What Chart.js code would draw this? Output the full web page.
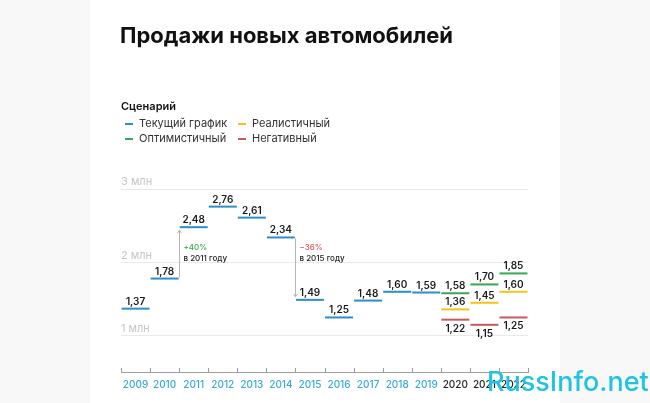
<!DOCTYPE html>
<html>
<head>
<meta charset="utf-8">
<script src="https://cdn.jsdelivr.net/npm/chart.js@4"></script>
<style>
  html, body { margin: 0; padding: 0; width: 650px; height: 403px; overflow: hidden; background: #f8f8f8; font-family: Inter, "Noto Sans", sans-serif; }
  #card { position: absolute; left: 90px; top: 0; width: 470px; height: 403px; background: #fff; }
  #chart { position: absolute; left: 0; top: 0; }
  h1 { position: absolute; left: 120px; top: 22px; margin: 0; font-size: 22px; font-weight: 700; color: #111; }
  .lg { position: absolute; font-size: 11px; color: #333; white-space: nowrap; }
  .lg i { position: absolute; left: -14px; top: 7px; width: 8px; height: 2px; }
  #lgTitle { left: 121px; top: 99px; font-weight: 600; color: #111; }
  #wm { position: absolute; left: 487px; top: 365px; font-size: 27px; font-weight: 500; color: #1fc4e2; z-index: 2; }
</style>
</head>
<body>
<div id="card"></div>
<canvas id="chart" width="650" height="403"></canvas>
<h1>Продажи новых автомобилей</h1>
<div class="lg" id="lgTitle">Сценарий</div>
<div id="legend"></div>
<div id="wm">RussInfo.net</div>
<script>
const years = ["2009", "2010", "2011", "2012", "2013", "2014", "2015", "2016", "2017", "2018", "2019", "2020", "2021", "2022"];
const current = [1.37, 1.78, 2.48, 2.76, 2.61, 2.34, 1.49, 1.25, 1.48, 1.60, 1.59, null, null, null];
const optimistic = [null, null, null, null, null, null, null, null, null, null, null, 1.58, 1.70, 1.85];
const realistic = [null, null, null, null, null, null, null, null, null, null, null, 1.36, 1.45, 1.60];
const negative = [null, null, null, null, null, null, null, null, null, null, null, 1.22, 1.15, 1.25];
const yTicks = [1, 2, 3];

const seriesNames = ["Текущий график", "Оптимистичный", "Реалистичный", "Негативный"];
const seriesColors = ["#2a8ec8", "#3aa655", "#f2c41c", "#c85a5c"];

// change annotations
const noteYears = ["2011", "2015"];
const noteFrom = [1.78, 2.34];
const noteTo = [2.48, 1.49];
const noteTexts = ["+40%", "\u221236%"];
const noteSubs = ["в 2011 году", "в 2015 году"];
const noteColors = ["#3aa655", "#d9534f"];

// legend (html)
const lgPos = [[139, 116], [139, 131], [252, 116], [252, 131]];
const legendEl = document.getElementById("legend");
seriesNames.forEach((n, i) => {
  const d = document.createElement("div");
  d.className = "lg";
  d.style.left = lgPos[i][0] + "px";
  d.style.top = lgPos[i][1] + "px";
  d.innerHTML = `<i style="background:${seriesColors[i]}"></i>${n}`;
  legendEl.appendChild(d);
});

const fmt = (v) => v.toFixed(2).replace(".", ",");

const valueLabels = {
  id: "valueLabels",
  afterDatasetsDraw(chart) {
    const ctx = chart.ctx;
    ctx.save();
    ctx.font = "600 10px Inter";
    ctx.fillStyle = "#1a1a1a";
    ctx.textAlign = "center";
    ctx.textBaseline = "middle";
    chart.data.datasets.forEach((ds, di) => {
      chart.getDatasetMeta(di).data.forEach((pt, i) => {
        const v = ds.data[i];
        if (v == null) return;
        ctx.fillText(fmt(v), pt.x, pt.y + (ds.below ? 9 : -7));
      });
    });
    ctx.restore();
  },
};

const changeNotes = {
  id: "changeNotes",
  afterDatasetsDraw(chart) {
    const { ctx, scales: { x, y } } = chart;
    const half = (x.getPixelForValue(1) - x.getPixelForValue(0)) / 2;
    ctx.save();
    noteYears.forEach((yr, k) => {
      const px = Math.round(x.getPixelForValue(years.indexOf(yr)) - half) + 0.5;
      const y0 = y.getPixelForValue(noteFrom[k]);
      const y1 = y.getPixelForValue(noteTo[k]);
      const dir = y1 < y0 ? -1 : 1;
      const tip = y1 - dir * 3;
      ctx.strokeStyle = "#b5b5b5";
      ctx.lineWidth = 1;
      ctx.beginPath();
      ctx.moveTo(px, y0 + dir * 1);
      ctx.lineTo(px, tip);
      ctx.moveTo(px - 2, tip - dir * 3);
      ctx.lineTo(px, tip);
      ctx.lineTo(px + 2, tip - dir * 3);
      ctx.stroke();
      const ty = y.getPixelForValue(2.2);
      ctx.textAlign = "left";
      ctx.textBaseline = "middle";
      ctx.font = "500 8px Inter";
      ctx.fillStyle = noteColors[k];
      ctx.fillText(noteTexts[k], px + 4, ty);
      ctx.fillStyle = "#222";
      ctx.fillText(noteSubs[k], px + 4, ty + 11);
    });
    ctx.restore();
  },
};

const axisTicks = {
  id: "axisTicks",
  afterDraw(chart) {
    const { ctx, scales: { x } } = chart;
    const half = (x.getPixelForValue(1) - x.getPixelForValue(0)) / 2;
    ctx.save();
    ctx.strokeStyle = "#9a9a9a";
    ctx.lineWidth = 1;
    ctx.beginPath();
    for (let i = 0; i <= years.length; i++) {
      const px = Math.round(x.getPixelForValue(0) - half + i * half * 2) + 0.5;
      ctx.moveTo(px, x.top);
      ctx.lineTo(px, x.top - 4);
    }
    ctx.stroke();
    ctx.restore();
  },
};

const seg = (label, data, color, below) => ({
  label,
  data,
  below,
  showLine: false,
  pointStyle: "line",
  pointRadius: 14,
  pointHoverRadius: 14,
  pointBorderWidth: 2,
  pointBorderColor: color,
  borderColor: color,
});

new Chart(document.getElementById("chart"), {
  type: "line",
  data: {
    labels: years,
    datasets: [
      seg(seriesNames[0], current, seriesColors[0], false),
      seg(seriesNames[1], optimistic, seriesColors[1], false),
      seg(seriesNames[2], realistic, seriesColors[2], false),
      seg(seriesNames[3], negative, seriesColors[3], true),
    ],
  },
  options: {
    responsive: false,
    animation: false,
    layout: { padding: { left: 121, right: 122, top: 178, bottom: 5 } },
    plugins: { legend: { display: false }, tooltip: { enabled: false } },
    scales: {
      x: {
        offset: true,
        grid: { display: true, drawOnChartArea: false, drawTicks: false },
        border: { display: true, color: "#a0a0a0", width: 1 },
        ticks: {
          padding: 7,
          maxRotation: 0,
          minRotation: 0,
          autoSkip: false,
          font: { family: "Inter", size: 10, weight: 500 },
          color: (c) => (c.index >= 11 ? "#222" : "#37a9da"),
        },
      },
      y: {
        min: 0.507,
        max: 3.15,
        afterBuildTicks: (s) => { s.ticks = yTicks.map((v) => ({ value: v })); },
        grid: { color: "#e9e9e9", drawTicks: false },
        border: { display: false },
        ticks: {
          mirror: true,
          padding: 0,
          labelOffset: -7,
          font: { family: "Inter", size: 11 },
          color: "#c6c6c6",
          callback: (v) => v + " млн",
        },
      },
    },
  },
  plugins: [valueLabels, changeNotes, axisTicks],
});
</script>
</body>
</html>
